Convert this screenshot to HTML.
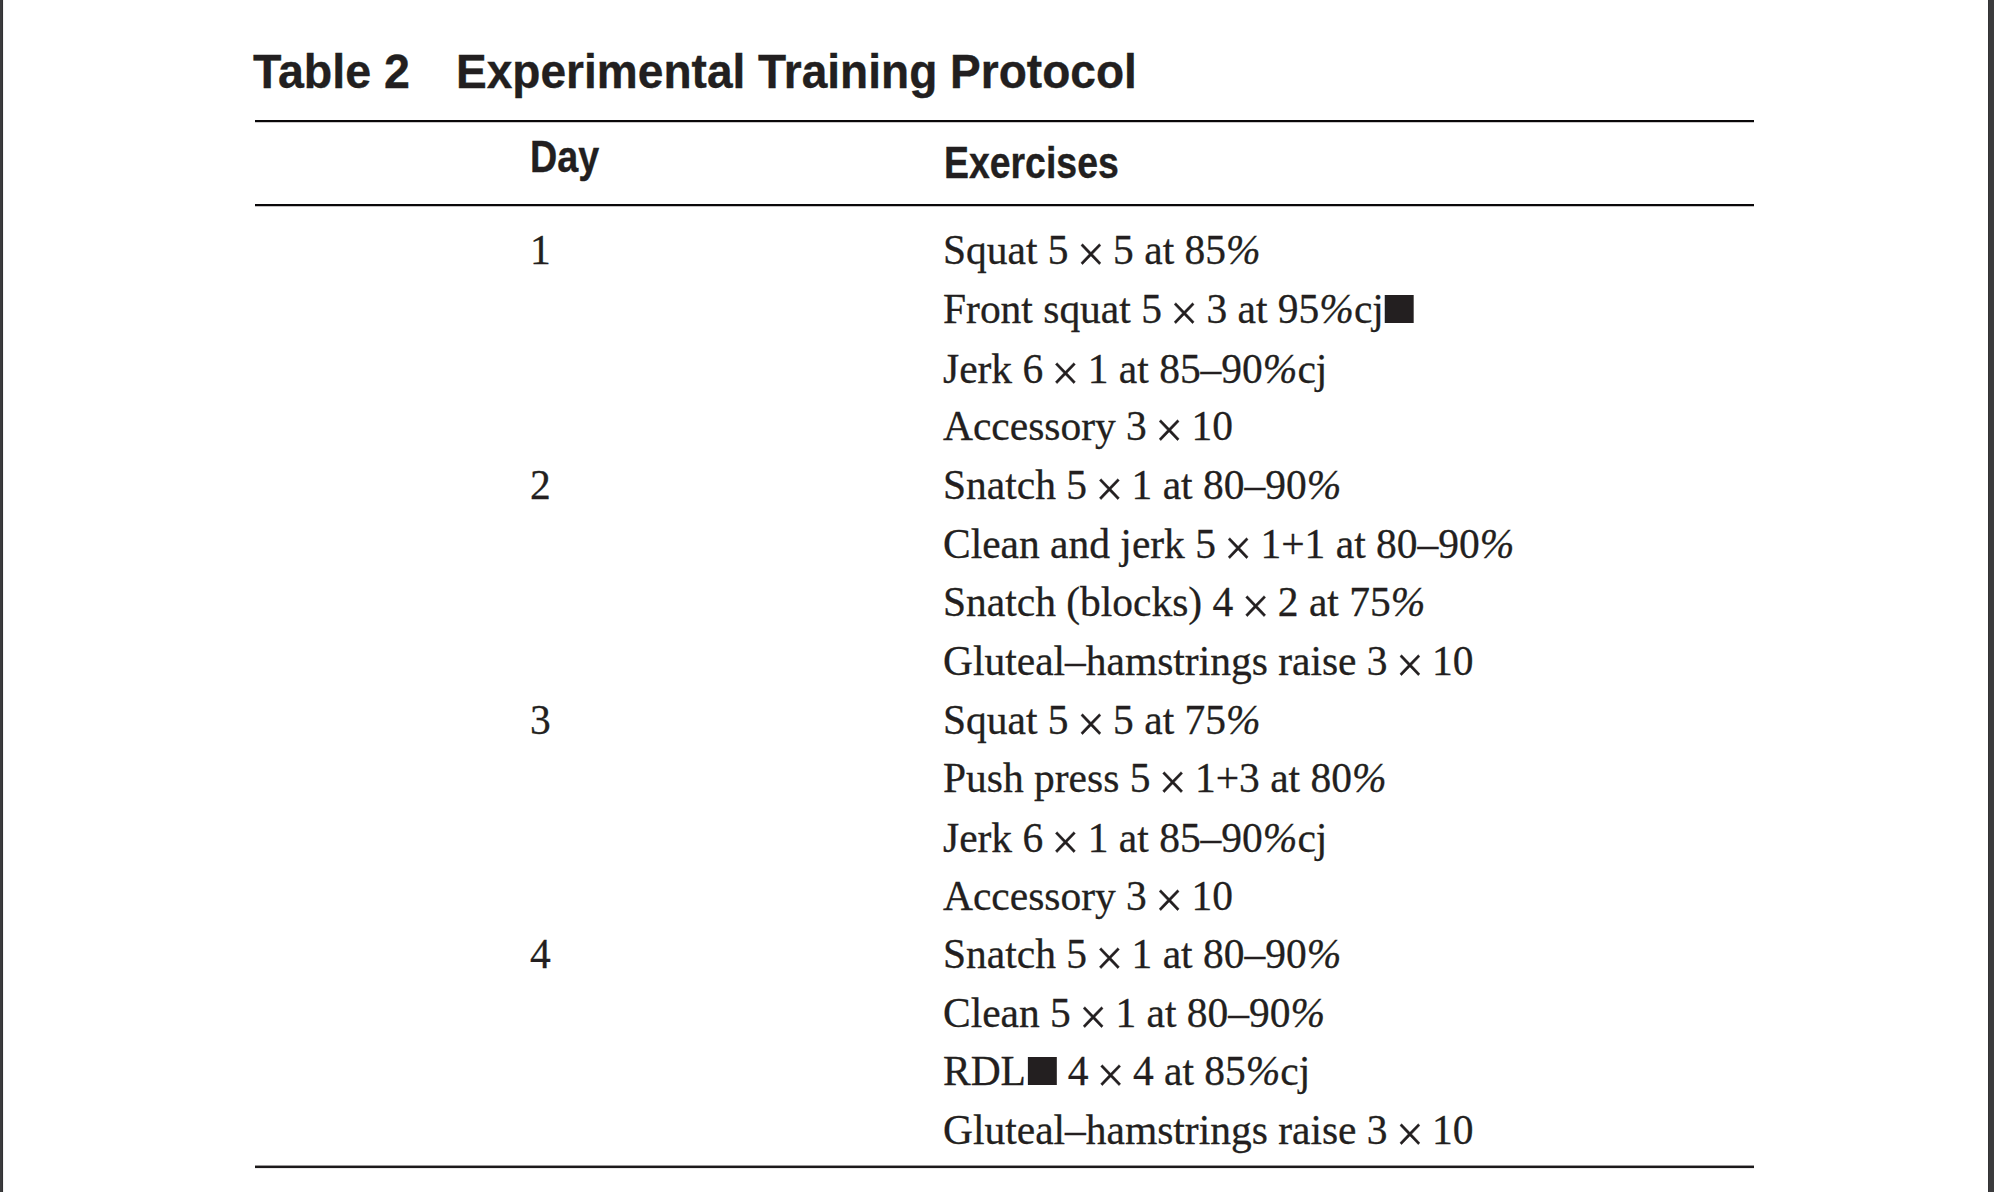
<!DOCTYPE html>
<html><head><meta charset="utf-8"><title>Table 2 Experimental Training Protocol</title>
<style>
html,body{margin:0;padding:0;background:#fff;}
body{width:1994px;height:1192px;position:relative;overflow:hidden;}
.bl{position:absolute;top:0;left:0;width:3px;height:1192px;background:#3b3b3d;}
.bl2{position:absolute;top:0;left:2px;width:1px;height:1192px;background:#303032;}
.bl3{position:absolute;top:0;left:3px;width:1px;height:1192px;background:#f2f2f2;}
.br{position:absolute;top:0;left:1988px;width:6px;height:1192px;background:#3b3b3d;}
.br2{position:absolute;top:0;left:1988px;width:1px;height:1192px;background:#333335;}
.rule{position:absolute;left:255px;width:1499px;height:2px;background:#0a0809;}
.ttl{position:absolute;transform-origin:0 0;font-family:"Liberation Sans",Arial,sans-serif;font-weight:bold;font-size:47.3px;line-height:47.3px;color:#221f20;white-space:nowrap;-webkit-text-stroke:0.35px #221f20;}
.hd{position:absolute;font-family:"Liberation Sans",Arial,sans-serif;font-weight:bold;font-size:43.5px;line-height:43.5px;color:#221f20;white-space:nowrap;-webkit-text-stroke:0.35px #221f20;transform-origin:0 0;}
.t{position:absolute;transform-origin:0 0;font-family:"Liberation Serif","Times New Roman",serif;font-size:43.0px;line-height:43.0px;color:#231f20;white-space:nowrap;-webkit-text-stroke:0.3px #231f20;}
.d{left:530.0px;transform:scaleX(0.9645);}
.e{left:943.0px;transform:scaleX(0.9645);}
.x{font-size:51px;line-height:0;margin:0 -2.05px;position:relative;top:7px;}
.p{font-style:italic;}
.sq{display:inline-block;width:30.5px;margin-left:0.5px;height:28px;background:#231f20;vertical-align:baseline;}
.sq2{display:inline-block;width:30px;margin-left:1.6px;margin-right:0.9px;height:28px;background:#231f20;vertical-align:baseline;}
</style></head><body>
<div class="bl"></div><div class="bl2"></div><div class="bl3"></div>
<div class="br"></div><div class="br2"></div>
<div class="ttl" style="left:253px;top:48px;transform:scaleX(0.984)">Table 2</div>
<div class="ttl" style="left:455.5px;top:48px;transform:scaleX(0.974)">Experimental Training Protocol</div>
<div class="rule" style="top:120px"></div><div class="rule" style="top:122px;height:1px;background:#cbc9ca"></div>
<div class="hd" id="hday" style="left:530px;top:136px;transform:scaleX(0.866)">Day</div>
<div class="hd" id="hex" style="left:943.5px;top:141.5px;transform:scaleX(0.86)">Exercises</div>
<div class="rule" style="top:204px"></div><div class="rule" style="top:206px;height:1px;background:#c4c2c3"></div>
<div class="t d" style="top:228.49px">1</div>
<div class="t e" style="top:228.49px">Squat 5 <span class=x>×</span> 5 at 85<i class=p>%</i></div>
<div class="t e" style="top:287.13px">Front squat 5 <span class=x>×</span> 3 at 95<i class=p>%</i>cj<span class=sq></span></div>
<div class="t e" style="top:346.77px">Jerk 6 <span class=x>×</span> 1 at 85–90<i class=p>%</i>cj</div>
<div class="t e" style="top:404.41px">Accessory 3 <span class=x>×</span> 10</div>
<div class="t d" style="top:463.05px">2</div>
<div class="t e" style="top:463.05px">Snatch 5 <span class=x>×</span> 1 at 80–90<i class=p>%</i></div>
<div class="t e" style="top:521.69px">Clean and jerk 5 <span class=x>×</span> 1+1 at 80–90<i class=p>%</i></div>
<div class="t e" style="top:580.33px">Snatch (blocks) 4 <span class=x>×</span> 2 at 75<i class=p>%</i></div>
<div class="t e" style="top:638.97px">Gluteal–hamstrings raise 3 <span class=x>×</span> 10</div>
<div class="t d" style="top:697.61px">3</div>
<div class="t e" style="top:697.61px">Squat 5 <span class=x>×</span> 5 at 75<i class=p>%</i></div>
<div class="t e" style="top:756.25px">Push press 5 <span class=x>×</span> 1+3 at 80<i class=p>%</i></div>
<div class="t e" style="top:815.89px">Jerk 6 <span class=x>×</span> 1 at 85–90<i class=p>%</i>cj</div>
<div class="t e" style="top:873.53px">Accessory 3 <span class=x>×</span> 10</div>
<div class="t d" style="top:932.17px">4</div>
<div class="t e" style="top:932.17px">Snatch 5 <span class=x>×</span> 1 at 80–90<i class=p>%</i></div>
<div class="t e" style="top:990.81px">Clean 5 <span class=x>×</span> 1 at 80–90<i class=p>%</i></div>
<div class="t e" style="top:1049.45px">RDL<span class=sq2></span> 4 <span class=x>×</span> 4 at 85<i class=p>%</i>cj</div>
<div class="t e" style="top:1108.09px">Gluteal–hamstrings raise 3 <span class=x>×</span> 10</div>
<div class="rule" style="top:1165px;height:1px;background:#9a9899"></div><div class="rule" style="top:1166px;background:#1c1a1b"></div><div class="rule" style="top:1168px;height:1px;background:#ebeaea"></div>
</body></html>
